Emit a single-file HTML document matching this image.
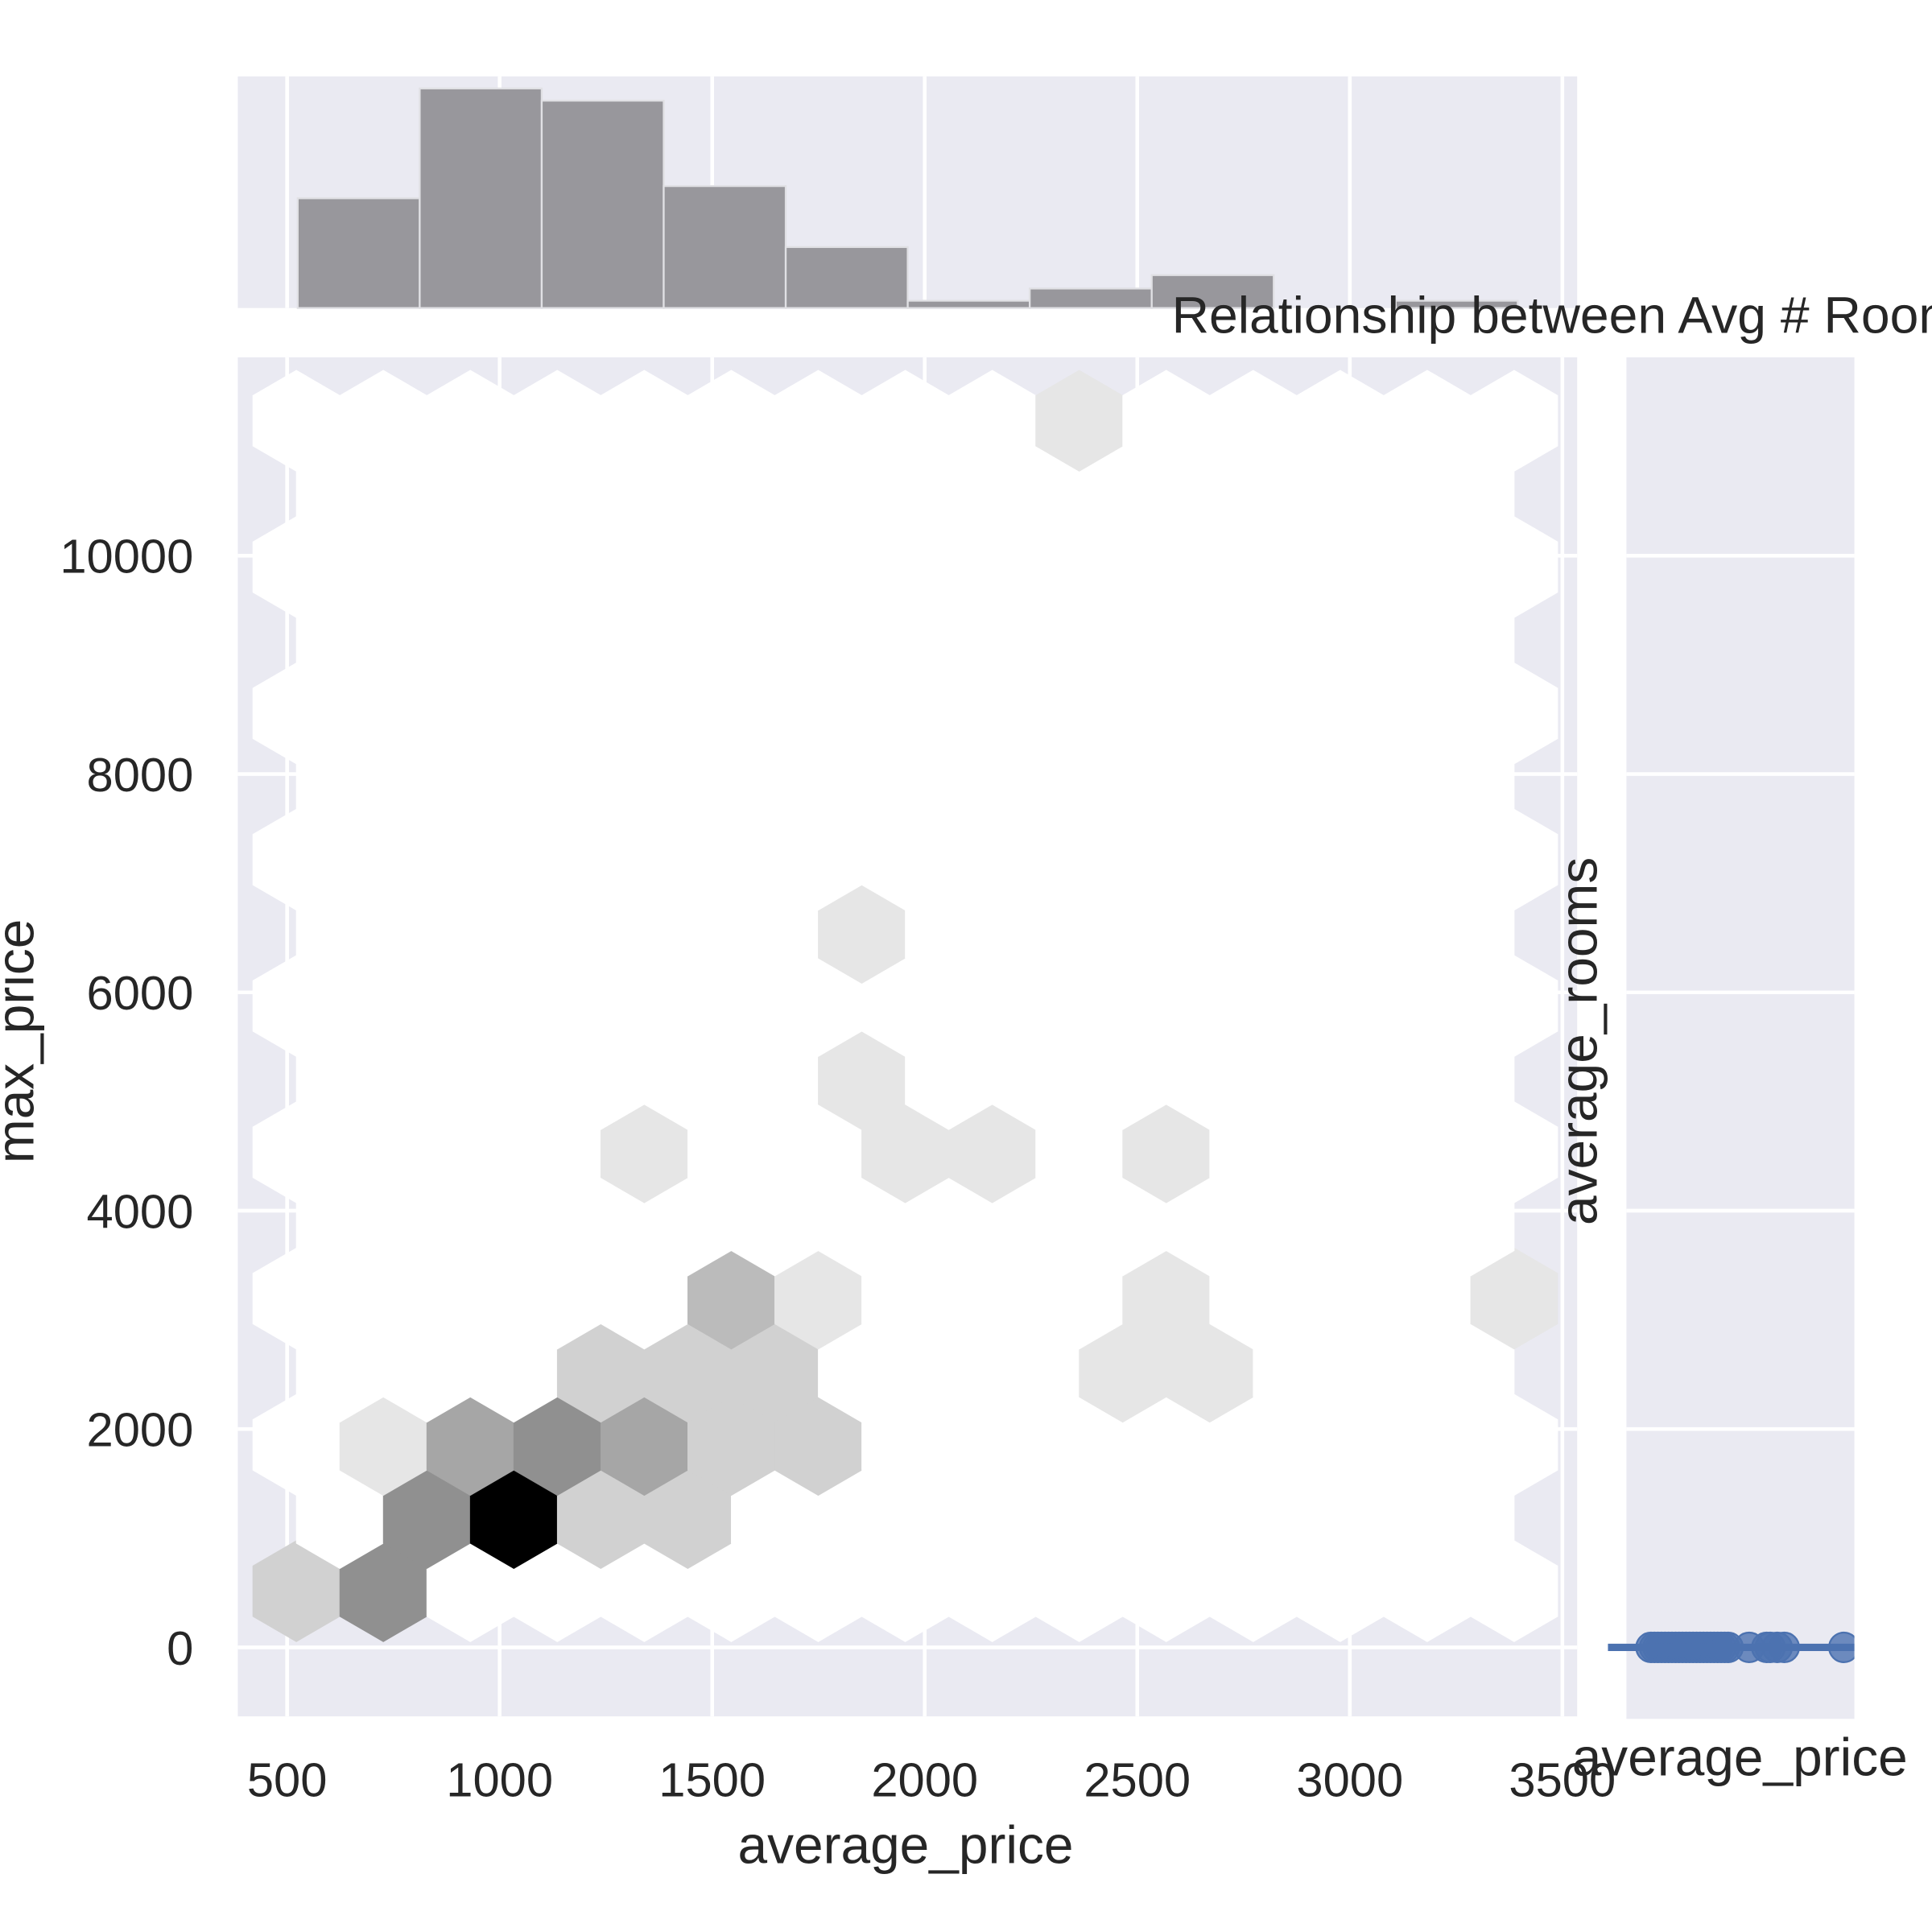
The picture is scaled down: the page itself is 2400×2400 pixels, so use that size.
<!DOCTYPE html>
<html><head><meta charset="utf-8"><style>
html,body{margin:0;padding:0;background:#fff;}
svg{display:block;font-family:"Liberation Sans",Arial,sans-serif;}
</style></head><body>
<svg id="chart" width="2400" height="2400" viewBox="0 0 1568 1568" xmlns="http://www.w3.org/2000/svg">
<defs>
<clipPath id="mainclip"><rect x="193" y="290" width="1087" height="1103"/></clipPath>
<clipPath id="rightclip"><rect x="1320" y="290" width="185" height="1105"/></clipPath>
</defs>
<g id="topHist"></g>
<g id="mainPlot"></g>
<g id="rightPanel"></g>
<text x="951" y="270" font-size="42" fill="#262626">Relationship between Avg # Rooms</text>
<text x="735" y="1512" font-size="43" fill="#262626" text-anchor="middle">average_price</text>
<text transform="translate(27,845) rotate(-90)" font-size="43" fill="#262626" text-anchor="middle">max_price</text>
<text transform="translate(1296,845) rotate(-90)" font-size="43" fill="#262626" text-anchor="middle">average_rooms</text>
<text x="1412" y="1441" font-size="43" fill="#262626" text-anchor="middle">average_price</text>
</svg>
<script>
const xTicks=[500,1000,1500,2000,2500,3000,3500];
const yTicks=[0,2000,4000,6000,8000,10000];
const histEdges=[525,812,1099,1386,1673,1960,2247,2534,2821,3108,3395];
const histCounts=[9,18,17,10,5,0.6,1.6,2.7,0,0.6];
// hex cells: column, row, count
const hexCols=[0,1,1,2,3,4,1,2,3,4,5,6,3,4,5,9,10,5,6,10,14,4,7,8,10,6,6,9];
const hexRows=[0,0,1,1,1,1,2,2,2,2,2,2,3,3,3,3,3,4,4,4,4,6,6,6,6,7,9,16];
const hexCounts=[2,5,5,12,2,2,1,4,5,4,2,2,2,2,2,1,1,3,1,1,1,1,1,1,1,1,1,1];
const rugValues=[650,700,750,800,850,900,950,1000,1050,1100,1150,1200,1250,1300,1350,1400,1450,1500,1550,1600,1650,1700,1750,2050,2300,2350,2450,2550,3400];

const NS='http://www.w3.org/2000/svg';
function mk(tag,attrs,parent){const e=document.createElementNS(NS,tag);for(const k in attrs)e.setAttribute(k,attrs[k]);parent.appendChild(e);return e;}
const X=v=>233+(v-500)*0.345;
const Y=v=>1337-v*0.0886;
const HY=c=>250-c*9.9;
const RX=v=>1320+(v-300)*185/3250;
const hx=(col,row)=>(row%2===0?240.5:275.8)+70.6*col;
const hy=row=>1291.4-59.37*row;
const shade=c=>{const l=Math.max(0,Math.round(252-21.6*c));return `rgb(${l},${l},${l})`;};

// top histogram
const topG=document.getElementById('topHist');
let r=mk('rect',{x:193,y:62,width:1087,height:188,fill:'#eaeaf2'},topG);


xTicks.forEach(t=>{const l=mk('line',{x1:X(t),x2:X(t),y1:62,y2:250,stroke:'#fff','stroke-width':3},topG);

});
histCounts.forEach((c,i)=>{if(c<=0)return;const x0=X(histEdges[i]),x1=X(histEdges[i+1]);
const b=mk('rect',{x:x0,y:HY(c),width:x1-x0,height:250-HY(c),fill:'#98979c',stroke:'#e0e0e4','stroke-width':1.5},topG);

});

// main
const mainG=document.getElementById('mainPlot');
r=mk('rect',{x:193,y:290,width:1087,height:1103,fill:'#eaeaf2'},mainG);


xTicks.forEach(t=>{const l=mk('line',{x1:X(t),x2:X(t),y1:290,y2:1393,stroke:'#fff','stroke-width':3},mainG);


const tx=mk('text',{x:X(t),y:1458,'font-size':39,fill:'#262626','text-anchor':'middle'},mainG);tx.textContent=t;

});
yTicks.forEach(t=>{const l=mk('line',{x1:193,x2:1280,y1:Y(t),y2:Y(t),stroke:'#fff','stroke-width':3},mainG);


const tx=mk('text',{x:157,y:Y(t)+14,'font-size':39,fill:'#262626','text-anchor':'end'},mainG);tx.textContent=t;

});
const hg=mk('g',{'clip-path':'url(#mainclip)'},mainG);
const counts={};
hexCols.forEach((c,i)=>{counts[c+','+hexRows[i]]=hexCounts[i];});
function hexPath(cx,cy){const w=35.3,t=41,s=20.5;return `M${cx},${cy-t} L${cx+w},${cy-s} L${cx+w},${cy+s} L${cx},${cy+t} L${cx-w},${cy+s} L${cx-w},${cy-s} Z`;}
for(let row=0;row<=16;row++){const n=row%2===0?15:14;for(let col=0;col<n;col++){
const c=counts[col+','+row]||0;
const p=mk('path',{d:hexPath(hx(col,row),hy(row)),fill:c>0?shade(c):'#fff',stroke:c>0?shade(c):'#fff','stroke-width':0.5},hg);

}}

// right panel
const rightG=document.getElementById('rightPanel');
r=mk('rect',{x:1320,y:290,width:185,height:1105,fill:'#eaeaf2'},rightG);


yTicks.forEach(t=>{const l=mk('line',{x1:1320,x2:1505,y1:Y(t),y2:Y(t),stroke:'#fff','stroke-width':3},rightG);

});
const rg=mk('g',{'clip-path':'url(#rightclip)'},rightG);
const ln=mk('line',{x1:1305,x2:1505,y1:Y(0),y2:Y(0),stroke:'#4c72b0','stroke-width':6},rightG);


rugValues.forEach(v=>{const c=mk('circle',{cx:RX(v),cy:Y(0),r:12,fill:'#4c72b0','fill-opacity':0.8,stroke:'#4c72b0','stroke-width':1.5},rg);

});
</script>
</body></html>
